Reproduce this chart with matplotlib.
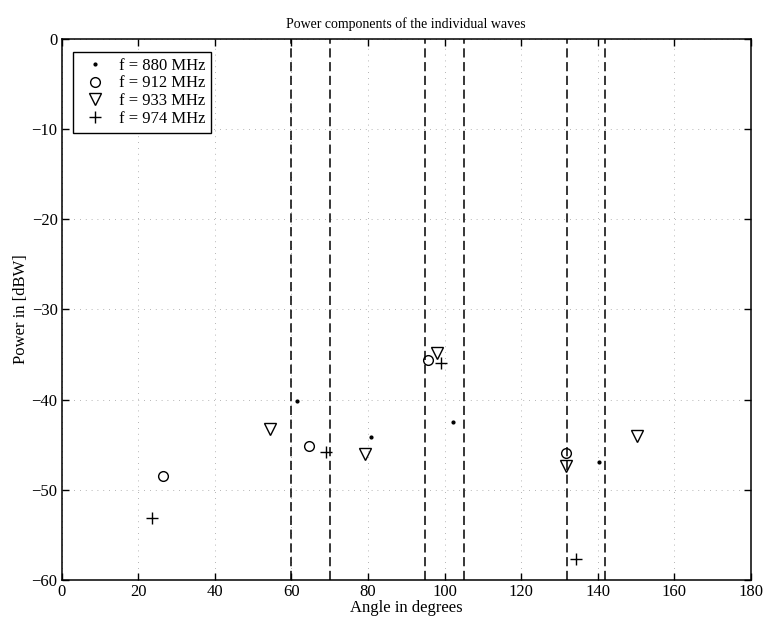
import matplotlib
matplotlib.use('Agg')
import matplotlib.pyplot as plt

# measured angle (deg) / power (dBW) of each wave component
angle_880 = [61.5, 80.7, 102.2, 140.4]
power_880 = [-40.2, -44.1, -42.5, -46.9]

angle_912 = [26.5, 64.5, 95.8, 131.7]
power_912 = [-48.5, -45.1, -35.6, -45.9]

angle_933 = [54.5, 79.1, 98.1, 131.7, 150.2]
power_933 = [-43.2, -46.0, -34.8, -47.4, -44.0]

angle_974 = [23.5, 69.1, 99.0, 134.4]
power_974 = [-53.1, -45.8, -35.9, -57.7]

# angular sectors marked with dashed lines
sector_edges = [60, 70, 95, 105, 132, 142]

plt.rcParams['font.family'] = ['Liberation Serif', 'DejaVu Serif']
plt.rcParams['font.size'] = 12
plt.rcParams['axes.unicode_minus'] = True

fig = plt.figure(figsize=(7.67, 6.26), dpi=100)
ax = fig.add_axes([0.0804, 0.0735, 0.8986, 0.8642])

for x in sector_edges:
    ax.axvline(x, color='black', lw=1.1, dashes=(6, 3), zorder=2)

ax.plot(angle_880, power_880, '.', color='black', ms=4, label='f = 880 MHz', zorder=3)
ax.plot(angle_912, power_912, 'o', mfc='none', mec='black', ms=7, mew=1.0, label='f = 912 MHz', zorder=3)
ax.plot(angle_933, power_933, 'v', mfc='none', mec='black', ms=8, mew=1.0, label='f = 933 MHz', zorder=3)
ax.plot(angle_974, power_974, '+', color='black', ms=8, mew=1.0, label='f = 974 MHz', zorder=3)

ax.set_xlim(0, 180)
ax.set_ylim(-60, 0)
ax.set_xticks(range(0, 181, 20))
ax.set_yticks(range(-60, 1, 10))
ax.grid(True, color='0.45', lw=0.6, linestyle=(0, (1, 6)), alpha=0.7)
ax.tick_params(direction='in', top=True, right=True, length=5, width=1, labelsize=12, pad=3)
for s in ax.spines.values():
    s.set_linewidth(1.1)

ax.set_title('Power components of the individual waves', fontsize=10, pad=8)
ax.set_xlabel('Angle in degrees', fontsize=12, labelpad=0)
ax.set_ylabel('Power in [dBW]', fontsize=12, labelpad=2)

leg = ax.legend(loc='upper left', fancybox=False, edgecolor='black', framealpha=1,
                fontsize=12, handletextpad=0.4, borderpad=0.35, labelspacing=0.1,
                handlelength=2.0, borderaxespad=0, bbox_to_anchor=(0.0164, 0.976))
leg.get_frame().set_linewidth(1.0)

fig.savefig('out.png', dpi=100)
